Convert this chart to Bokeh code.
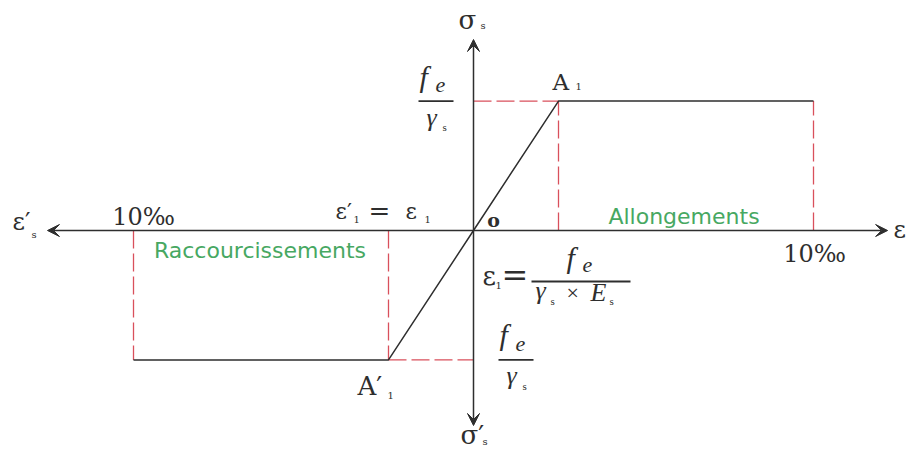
from bokeh.plotting import figure
from bokeh.models import Range1d, Label, Arrow, VeeHead
from bokeh.embed import file_html
from bokeh.resources import INLINE

# ---- data (strain in per mille, stress normalised to fe/gamma_s) ----
eps_curve = [-10.0, -2.5, 0.0, 2.5, 10.0]   # strain (‰)
sig_curve = [-1.0, -1.0, 0.0, 1.0, 1.0]     # stress / (fe/γs)
eps_y = 2.5      # elastic limit strain ε1 (‰)
eps_u = 10.0     # ultimate strain (‰)
sig_d = 1.0      # design yield stress fe/γs
tick_label_u = "10‰"
zone_labels = ["Raccourcissements", "Allongements"]

# ---- layout ----
W, H = 917, 451
X0_PX, Y0_PX = 473.0, 230.0          # canvas position of the origin
PX_EPS, PX_SIG = 34.0, 129.4         # pixels per unit
AX_L, AX_R = -12.53, 12.18           # horizontal axis extent
AX_B, AX_T = -1.507, 1.476           # vertical axis extent
BASE_FIX = 0.3                       # baseline correction (em)

INK = "#2e2e2e"
RED = "#d9505c"
GREEN = "#47a862"
SERIF = "DejaVu Serif"
MATH = "Liberation Serif"
SANS = "DejaVu Sans"

p = figure(width=W, height=H,
           x_range=Range1d(-X0_PX / PX_EPS, (W - X0_PX) / PX_EPS),
           y_range=Range1d(-(H - Y0_PX) / PX_SIG, Y0_PX / PX_SIG),
           output_backend="svg", toolbar_location=None,
           x_axis_location=None, y_axis_location=None, min_border=0)
p.grid.visible = False
p.outline_line_color = None
p.background_fill_color = "white"
p.border_fill_color = "white"

# axes with arrows
p.add_layout(Arrow(x_start=AX_L, y_start=0, x_end=AX_R, y_end=0, line_color=INK, line_width=1.5,
                   start=VeeHead(size=12, fill_color=INK, line_color=INK),
                   end=VeeHead(size=12, fill_color=INK, line_color=INK)))
p.add_layout(Arrow(x_start=0, y_start=AX_B, x_end=0, y_end=AX_T, line_color=INK, line_width=1.5,
                   start=VeeHead(size=12, fill_color=INK, line_color=INK),
                   end=VeeHead(size=12, fill_color=INK, line_color=INK)))

# dashed guides
gx0 = [eps_u, eps_y, 0.0, -eps_u, -eps_y, -eps_y]
gx1 = [eps_u, eps_y, eps_y, -eps_u, -eps_y, 0.0]
gy0 = [0.0, 0.0, sig_d, 0.0, 0.0, -sig_d]
gy1 = [sig_d, sig_d, sig_d, -sig_d, -sig_d, -sig_d]
p.segment(gx0, gy0, gx1, gy1, line_color=RED, line_width=1.3, line_dash="18 5")

# constitutive law
p.line(eps_curve, sig_curve, line_color=INK, line_width=1.5)


def txt(ax, ay, dx, dy, s, size, font=SERIF, style="normal", color=INK, align="left"):
    p.add_layout(Label(x=ax, y=ay, x_offset=dx, y_offset=dy + round(BASE_FIX * size), text=s,
                       text_font=font, text_font_size=f"{size}px", text_font_style=style,
                       text_color=color, text_align=align, text_baseline="alphabetic"))


def bar(ax, ay, dx0, dx1, dy):
    p.segment([ax + dx0 / PX_EPS], [ay + dy / PX_SIG], [ax + dx1 / PX_EPS], [ay + dy / PX_SIG],
              line_color=INK, line_width=1.8)


def frac(ax, ay, dxl, dyb):
    bar(ax, ay, dxl, dxl + 35, dyb)
    txt(ax, ay, dxl + 1, dyb + 16, "f", 30, MATH, "italic")
    txt(ax, ay, dxl + 17, dyb + 9, "e", 22, MATH, "italic")
    txt(ax, ay, dxl + 8, dyb - 24, "γ", 26, MATH, "italic")
    txt(ax, ay, dxl + 24, dyb - 29, "s", 11, MATH)


# axis titles
txt(0, AX_T, -15, 12, "σ", 26)
txt(0, AX_T, 7, 11, "s", 10)
txt(0, AX_B, -13, -17, "σ′", 26)
txt(0, AX_B, 9, -19, "s", 10)
txt(AX_L, 0, -35, 2, "ε′", 24)
txt(AX_L, 0, -16, -7, "s", 10)
txt(AX_R, 0, 6, -6, "ε", 24)

# 10 per mille ticks
txt(-eps_u, 0, 10, 7, tick_label_u, 24, align="center")
txt(eps_u, 0, 1, -30, tick_label_u, 24, align="center")

# ε'1 = ε1
txt(-eps_y, 0, -53, 12, "ε′", 22)
txt(-eps_y, 0, -35, 8, "1", 10)
txt(-eps_y, 0, -20, 12, "=", 26)
txt(-eps_y, 0, 17, 12, "ε", 22)
txt(-eps_y, 0, 36, 8, "1", 10)

# origin
txt(0, 0, 20, 5, "o", 19, style="bold", align="center")

# points
txt(eps_y, sig_d, -6, 12, "A", 23)
txt(eps_y, sig_d, 17, 12, "1", 10)
txt(-eps_y, -sig_d, -31, -34, "A′", 26)
txt(-eps_y, -sig_d, -1, -39, "1", 10)

# fe / γs fractions
frac(0, sig_d, -55, 0)
frac(0, -sig_d, 25, 0)

# ε1 = fe / (γs × Es)
txt(0, 0, 9, -53, "ε", 26)
txt(0, 0, 22, -58, "1", 10)
txt(0, 0, 28, -54, "=", 32)
bar(0, 0, 58, 157, -51)
txt(0, 0, 93, -36, "f", 30, MATH, "italic")
txt(0, 0, 109, -41, "e", 22, MATH, "italic")
txt(0, 0, 62, -68, "γ", 26, MATH, "italic")
txt(0, 0, 77, -73, "s", 11, MATH)
txt(0, 0, 93, -69, "×", 22, MATH)
txt(0, 0, 117, -70, "E", 26, MATH, "italic")
txt(0, 0, 136, -73, "s", 11, MATH)

# zone labels
txt(-(eps_y + eps_u) / 2, 0, -1, -27, zone_labels[0], 22, SANS, color=GREEN, align="center")
txt((eps_y + eps_u) / 2, 0, -2, 7, zone_labels[1], 22, SANS, color=GREEN, align="center")

open("out.html", "w").write(file_html(p, INLINE))
